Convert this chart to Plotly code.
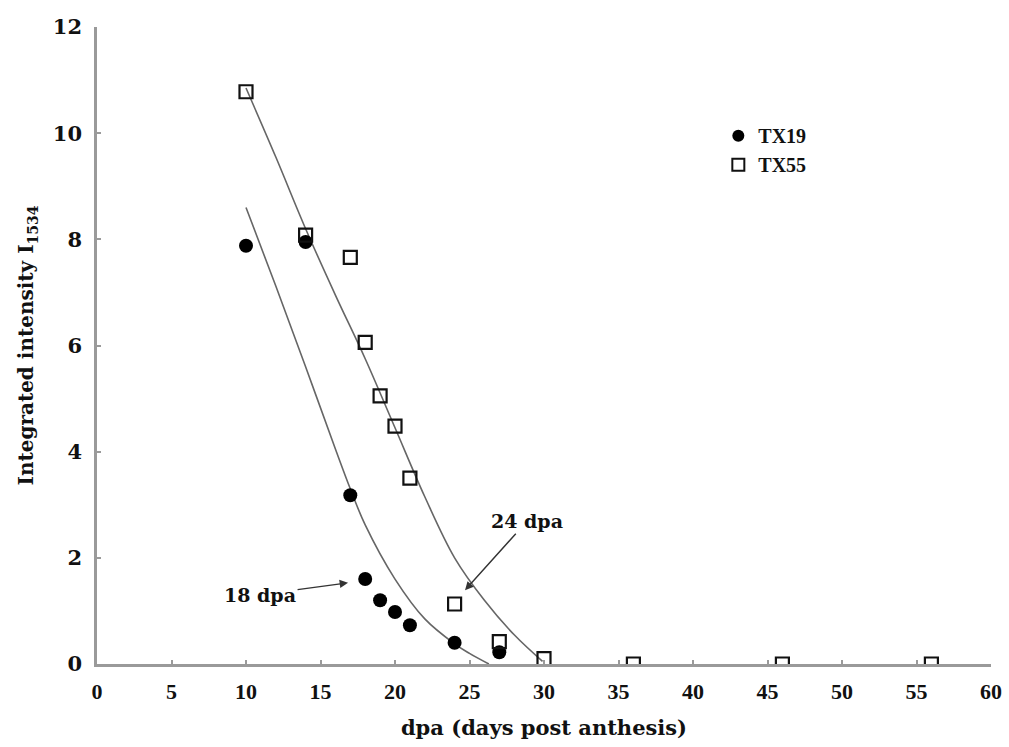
import plotly.graph_objects as go

# Measured points
tx19_x = [10, 14, 17, 18, 19, 20, 21, 24, 27]
tx19_y = [7.88, 7.95, 3.18, 1.60, 1.20, 0.98, 0.73, 0.40, 0.22]
tx55_x = [10, 14, 17, 18, 19, 20, 21, 24, 27, 30, 36, 46, 56]
tx55_y = [10.78, 8.08, 7.66, 6.06, 5.05, 4.48, 3.50, 1.13, 0.42, 0.10, 0.0, 0.0, 0.0]

# Fitted curves
fit19_x = [10, 12, 14, 16, 17, 18, 20, 22, 24, 25, 26.3]
fit19_y = [8.6, 7.12, 5.6, 4.05, 3.3, 2.62, 1.6, 0.85, 0.38, 0.2, 0.0]
fit55_x = [10, 12, 14, 16, 18, 20, 22, 24, 26, 28, 29.9]
fit55_y = [10.85, 9.55, 8.2, 6.95, 5.75, 4.45, 3.15, 2.0, 1.2, 0.55, 0.05]

x_ticks = [0, 5, 10, 15, 20, 25, 30, 35, 40, 45, 50, 55, 60]
y_ticks = [0, 2, 4, 6, 8, 10, 12]

SERIF = "Liberation Serif, Times New Roman, serif"
WIDE = "DejaVu Serif, serif"
AXC = "#9a9a9a"
LINEC = "#666666"
TXT = "#111111"

fig = go.Figure()
fig.add_trace(go.Scatter(x=fit19_x, y=fit19_y, mode="lines",
                         line=dict(color=LINEC, width=1.6, shape="spline", smoothing=1.0),
                         showlegend=False, hoverinfo="skip"))
fig.add_trace(go.Scatter(x=fit55_x, y=fit55_y, mode="lines",
                         line=dict(color=LINEC, width=1.6, shape="spline", smoothing=1.0),
                         showlegend=False, hoverinfo="skip"))
fig.add_trace(go.Scatter(x=tx19_x, y=tx19_y, mode="markers", name="TX19",
                         marker=dict(symbol="circle", size=14, color="black", line=dict(color="black", width=0))))
fig.add_trace(go.Scatter(x=tx55_x, y=tx55_y, mode="markers", name="TX55",
                         marker=dict(symbol="square-open", size=13, color=TXT, line=dict(color=TXT, width=2.2))))

fig.add_annotation(x=16.85, y=1.53, text="<b>18 dpa</b>", showarrow=True, ax=-88, ay=12,
                   arrowhead=2, arrowsize=1.2, arrowwidth=1.4, arrowcolor="#333333",
                   font=dict(family=WIDE, size=19, color=TXT))
fig.add_annotation(x=24.7, y=1.39, text="<b>24 dpa</b>", showarrow=True, ax=62, ay=-69,
                   arrowhead=2, arrowsize=1.2, arrowwidth=1.4, arrowcolor="#333333",
                   font=dict(family=WIDE, size=19, color=TXT))

fig.update_layout(
    width=1009, height=747,
    margin=dict(l=97, r=18, t=27, b=83),
    paper_bgcolor="white", plot_bgcolor="white",
    font=dict(family=SERIF, color=TXT),
    legend=dict(x=0.695, y=0.86, xanchor="left", yanchor="top", bgcolor="rgba(0,0,0,0)",
                font=dict(family=SERIF, size=20, color=TXT, weight="bold"),
                itemsizing="constant", tracegroupgap=0),
    xaxis=dict(range=[0, 60], tickvals=x_ticks, showgrid=False, zeroline=False, automargin=False,
               showline=True, linecolor=AXC, linewidth=2.5, ticks="inside", ticklen=4,
               tickcolor=AXC, tickwidth=1.5, ticklabelstandoff=6,
               tickfont=dict(family=SERIF, size=22, color=TXT, weight="bold"),
               title=dict(text="dpa (days post anthesis)", standoff=18,
                          font=dict(family=WIDE, size=21, color=TXT, weight="bold"))),
    yaxis=dict(range=[0, 12], tickvals=y_ticks, showgrid=False, zeroline=False, automargin=False,
               showline=True, linecolor=AXC, linewidth=2.5, ticks="inside", ticklen=4,
               tickcolor=AXC, tickwidth=1.5, ticklabelstandoff=8,
               tickfont=dict(family=WIDE, size=21, color=TXT, weight="bold"),
               title=dict(text="Integrated intensity I<sub>1534</sub>", standoff=14,
                          font=dict(family=WIDE, size=20, color=TXT, weight="bold"))),
)

fig.write_html("out.html")
